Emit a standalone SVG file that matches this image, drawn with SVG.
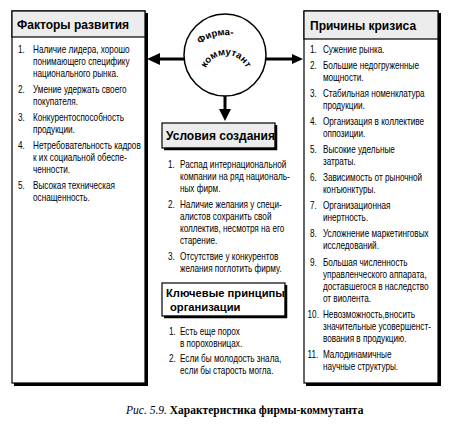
<svg xmlns="http://www.w3.org/2000/svg" width="464" height="433" viewBox="0 0 464 433">
<style>
.box{fill:#fff;stroke:#000;stroke-width:1.2}
.hdr{fill:#ececec;stroke:#000;stroke-width:1.2}
.sh{fill:none;stroke:#000;stroke-width:3}
.t{font-family:"Liberation Sans",Arial,sans-serif;font-size:10px;fill:#000}
.h{font-family:"Liberation Sans",Arial,sans-serif;font-size:12px;font-weight:bold;fill:#000}
.hk{font-family:"Liberation Sans",Arial,sans-serif;font-size:11.2px;font-weight:bold;fill:#000}
.c{font-family:"Liberation Sans",Arial,sans-serif;font-size:9.6px;font-weight:bold;fill:#000}
.conn{stroke:#000;stroke-width:3;fill:none}
.cap{font-family:"Liberation Serif","Times New Roman",serif;font-size:11.5px;fill:#000}
</style>
<defs>
<path id="arcTop" d="M184,77 A42,42 0 0 1 268,77"/>
<path id="arcLow" d="M204,77 A22,22 0 0 1 248,77"/>
</defs>
<rect width="464" height="433" fill="#fff"/>

<g id="connectors">
<line class="conn" x1="158" y1="59" x2="185" y2="59"/>
<polygon points="147,59 160,53 160,65" fill="#000"/>
<line class="conn" x1="265" y1="59" x2="293" y2="59"/>
<polygon points="303,59 292,54 292,64" fill="#000"/>
<line class="conn" x1="225" y1="95" x2="225" y2="111"/>
<polygon points="225,121 219,109 231,109" fill="#000"/>
</g>

<g id="firm">
<circle cx="225" cy="55" r="41" fill="#fff" stroke="#000" stroke-width="1.5"/>
<text class="c"><textPath href="#arcTop" startOffset="42%" text-anchor="middle">Фирма-</textPath></text>
<text class="c"><textPath href="#arcLow" startOffset="50%" text-anchor="middle">коммутант</textPath></text>
</g>

<g id="factors">
<rect class="box" x="12" y="11" width="133" height="372"/>
<path class="sh" d="M146.5,13 V384.5 H14"/>
<rect class="hdr" x="12" y="11" width="133" height="26"/>
<text class="h" x="17" y="29">Факторы развития</text>
<g transform="translate(18,0) scale(0.82,1)">
<text class="t" x="0" y="53">1.</text><text class="t" x="18.3" y="53">Наличие лидера, хорошо</text>
<text class="t" x="18.3" y="65">понимающего специфику</text>
<text class="t" x="18.3" y="77">национального рынка.</text>
<text class="t" x="0" y="93">2.</text><text class="t" x="18.3" y="93">Умение удержать своего</text>
<text class="t" x="18.3" y="105">покупателя.</text>
<text class="t" x="0" y="121">3.</text><text class="t" x="18.3" y="121">Конкурентоспособность</text>
<text class="t" x="18.3" y="133">продукции.</text>
<text class="t" x="0" y="149">4.</text><text class="t" x="18.3" y="149">Нетребовательность кадров</text>
<text class="t" x="18.3" y="161">к их социальной обеспе-</text>
<text class="t" x="18.3" y="173">ченности.</text>
<text class="t" x="0" y="189">5.</text><text class="t" x="18.3" y="189">Высокая техническая</text>
<text class="t" x="18.3" y="201">оснащенность.</text>
</g>
</g>

<g id="crisis">
<rect class="box" x="304" y="11" width="134" height="372"/>
<path class="sh" d="M439.5,13 V384.5 H306"/>
<rect class="hdr" x="304" y="11" width="134" height="28"/>
<text class="h" x="310" y="30">Причины кризиса</text>
<g transform="translate(310,0) scale(0.82,1)">
<text class="t" x="0" y="53">1.</text><text class="t" x="15.8" y="53">Сужение рынка.</text>
<text class="t" x="0" y="69">2.</text><text class="t" x="15.8" y="69">Большие недогруженные</text>
<text class="t" x="15.8" y="81">мощности.</text>
<text class="t" x="0" y="97">3.</text><text class="t" x="15.8" y="97">Стабильная номенклатура</text>
<text class="t" x="15.8" y="109">продукции.</text>
<text class="t" x="0" y="125">4.</text><text class="t" x="15.8" y="125">Организация в коллективе</text>
<text class="t" x="15.8" y="137">оппозиции.</text>
<text class="t" x="0" y="153">5.</text><text class="t" x="15.8" y="153">Высокие удельные</text>
<text class="t" x="15.8" y="165">затраты.</text>
<text class="t" x="0" y="181">6.</text><text class="t" x="15.8" y="181">Зависимость от рыночной</text>
<text class="t" x="15.8" y="193">конъюнктуры.</text>
<text class="t" x="0" y="209">7.</text><text class="t" x="15.8" y="209">Организационная</text>
<text class="t" x="15.8" y="221">инертность.</text>
<text class="t" x="0" y="237">8.</text><text class="t" x="15.8" y="237">Усложнение маркетинговых</text>
<text class="t" x="15.8" y="249">исследований.</text>
<text class="t" x="0" y="266">9.</text><text class="t" x="15.8" y="266">Большая численность</text>
<text class="t" x="15.8" y="278">управленческого аппарата,</text>
<text class="t" x="15.8" y="290">доставшегося в наследство</text>
<text class="t" x="15.8" y="302">от виолента.</text>
<text class="t" x="-3" y="318">10.</text><text class="t" x="15.8" y="318">Невозможность,вносить</text>
<text class="t" x="15.8" y="330">значительные усовершенст-</text>
<text class="t" x="15.8" y="342">вования в продукцию.</text>
<text class="t" x="-3" y="358">11.</text><text class="t" x="15.8" y="358">Малодинамичные</text>
<text class="t" x="15.8" y="370">научные структуры.</text>
</g>
</g>

<g id="conditions">
<rect class="hdr" x="162" y="123" width="113" height="25"/>
<path fill="none" stroke="#000" stroke-width="2.5" d="M276,125 V149 H164"/>
<text class="h" x="166" y="140">Условия создания</text>
<g transform="translate(168,0) scale(0.82,1)">
<text class="t" x="0" y="168">1.</text><text class="t" x="14.6" y="168">Распад интернациональной</text>
<text class="t" x="14.6" y="180">компании на ряд националь-</text>
<text class="t" x="14.6" y="192">ных фирм.</text>
<text class="t" x="0" y="208">2.</text><text class="t" x="14.6" y="208">Наличие желания у специ-</text>
<text class="t" x="14.6" y="220">алистов сохранить свой</text>
<text class="t" x="14.6" y="232">коллектив, несмотря на его</text>
<text class="t" x="14.6" y="244">старение.</text>
<text class="t" x="0" y="260">3.</text><text class="t" x="14.6" y="260">Отсутствие у конкурентов</text>
<text class="t" x="14.6" y="272">желания поглотить фирму.</text>
</g>
</g>

<g id="principles">
<rect class="box" x="162" y="283" width="123" height="33"/>
<path fill="none" stroke="#000" stroke-width="2.5" d="M286,285 V317 H164"/>
<text class="hk" x="166" y="297">Ключевые принципы</text>
<text class="hk" x="170" y="311">организации</text>
<g transform="translate(169,0) scale(0.82,1)">
<text class="t" x="0" y="335">1.</text><text class="t" x="13.4" y="335">Есть еще порох</text>
<text class="t" x="13.4" y="347">в пороховницах.</text>
<text class="t" x="0" y="362">2.</text><text class="t" x="13.4" y="362">Если бы молодость знала,</text>
<text class="t" x="13.4" y="374">если бы старость могла.</text>
</g>
</g>

<text class="cap" x="126" y="414"><tspan font-style="italic">Рис. 5.9.</tspan><tspan font-weight="bold"> Характеристика фирмы-коммутанта</tspan></text>
</svg>
